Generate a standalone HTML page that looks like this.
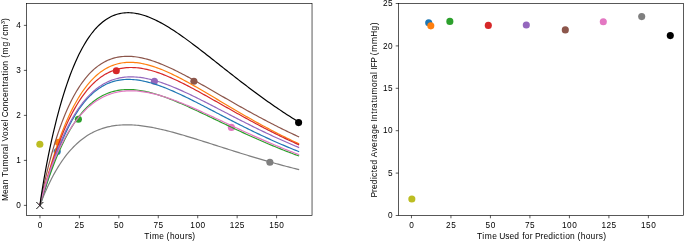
<!DOCTYPE html>
<html><head><meta charset="utf-8"><title>plot</title><style>
html,body{margin:0;padding:0;background:#fff;}
body{width:685px;height:241px;overflow:hidden;}
svg{display:block;will-change:transform;}
text{font-family:"Liberation Sans",sans-serif;fill:#000;}
</style></head><body>
<svg width="685" height="241" viewBox="0 0 685 241">
<rect x="0" y="0" width="685" height="241" fill="#fff"/>
<g>
<circle cx="57.20" cy="151.50" r="3.55" fill="#1f77b4"/>
<circle cx="58.30" cy="142.30" r="3.55" fill="#ff7f0e"/>
<circle cx="78.40" cy="119.20" r="3.55" fill="#2ca02c"/>
<circle cx="116.30" cy="70.80" r="3.55" fill="#d62728"/>
<circle cx="154.40" cy="81.30" r="3.55" fill="#9467bd"/>
<circle cx="193.90" cy="81.30" r="3.55" fill="#8c564b"/>
<circle cx="231.40" cy="127.40" r="3.55" fill="#e377c2"/>
<circle cx="269.90" cy="162.30" r="3.55" fill="#7f7f7f"/>
<circle cx="39.85" cy="144.30" r="3.55" fill="#bcbd22"/>
<circle cx="298.60" cy="122.60" r="3.55" fill="#000000"/>
</g>
<path d="M36.35,202.00 L43.35,209.00 M36.35,209.00 L43.35,202.00" stroke="#000" stroke-width="0.95" fill="none"/>
<g fill="none" stroke-linejoin="round" stroke-linecap="square">
<path d="M39.96,205.39 40.12,205.00 40.28,204.56 40.43,204.10 40.59,203.63 40.75,203.14 40.91,202.65 41.06,202.15 41.22,201.65 41.38,201.15 41.54,200.64 41.70,200.12 41.85,199.61 42.01,199.09 42.17,198.58 42.33,198.06 42.48,197.54 42.64,197.02 42.80,196.49 42.96,195.97 43.12,195.45 43.27,194.93 43.43,194.40 43.59,193.88 43.75,193.36 43.90,192.84 44.06,192.32 44.22,191.79 44.38,191.27 44.53,190.75 44.69,190.23 46.40,184.67 48.10,179.22 49.80,173.92 51.51,168.78 53.21,163.82 54.92,159.03 56.62,154.41 58.33,149.98 60.03,145.71 61.73,141.63 63.44,137.71 65.14,133.96 66.85,130.37 68.55,126.94 70.25,123.67 71.96,120.55 73.66,117.59 75.37,114.76 77.07,112.08 78.77,109.53 80.48,107.12 82.18,104.83 83.89,102.67 85.59,100.63 87.29,98.71 89.00,96.90 90.70,95.20 92.41,93.61 94.11,92.12 95.81,90.73 97.52,89.44 99.22,88.24 100.93,87.14 102.63,86.11 104.34,85.18 106.04,84.32 107.74,83.54 109.45,82.84 111.15,82.22 112.86,81.66 114.56,81.17 116.26,80.74 117.97,80.38 119.67,80.08 121.38,79.84 123.08,79.65 124.78,79.52 126.49,79.44 128.19,79.41 129.90,79.43 131.60,79.50 133.30,79.61 135.01,79.76 136.71,79.95 138.42,80.19 140.12,80.46 141.82,80.76 143.53,81.10 145.23,81.48 146.94,81.88 148.64,82.32 150.35,82.79 152.05,83.28 153.75,83.80 155.46,84.34 157.16,84.91 158.87,85.50 160.57,86.11 162.27,86.74 163.98,87.39 165.68,88.07 167.39,88.75 169.09,89.46 170.79,90.18 172.50,90.91 174.20,91.66 175.91,92.43 177.61,93.20 179.31,93.99 181.02,94.78 182.72,95.59 184.43,96.41 186.13,97.23 187.83,98.06 189.54,98.90 191.24,99.75 192.95,100.61 194.65,101.46 196.36,102.33 198.06,103.20 199.76,104.07 201.47,104.95 203.17,105.83 204.88,106.71 206.58,107.59 208.28,108.48 209.99,109.37 211.69,110.26 213.40,111.15 215.10,112.04 216.80,112.93 218.51,113.82 220.21,114.71 221.92,115.60 223.62,116.48 225.32,117.37 227.03,118.25 228.73,119.13 230.44,120.01 232.14,120.89 233.85,121.76 235.55,122.63 237.25,123.50 238.96,124.36 240.66,125.22 242.37,126.08 244.07,126.93 245.77,127.78 247.48,128.63 249.18,129.47 250.89,130.30 252.59,131.13 254.29,131.96 256.00,132.78 257.70,133.60 259.41,134.41 261.11,135.21 262.81,136.01 264.52,136.81 266.22,137.60 267.93,138.38 269.63,139.16 271.33,139.93 273.04,140.70 274.74,141.46 276.45,142.21 278.15,142.96 279.86,143.71 281.56,144.44 283.26,145.17 284.97,145.90 286.67,146.62 288.38,147.33 290.08,148.03 291.78,148.73 293.49,149.43 295.19,150.12 296.90,150.80 298.60,151.47" stroke="#1f77b4" stroke-width="1.19"/>
<path d="M39.96,205.39 40.12,204.82 40.28,204.23 40.43,203.62 40.59,203.01 40.75,202.40 40.91,201.79 41.06,201.18 41.22,200.56 41.38,199.94 41.54,199.33 41.70,198.71 41.85,198.10 42.01,197.48 42.17,196.87 42.33,196.26 42.48,195.64 42.64,195.03 42.80,194.42 42.96,193.81 43.12,193.20 43.27,192.60 43.43,191.99 43.59,191.39 43.75,190.78 43.90,190.18 44.06,189.58 44.22,188.98 44.38,188.38 44.53,187.79 44.69,187.19 46.40,180.87 48.10,174.74 49.80,168.82 51.51,163.10 53.21,157.58 54.92,152.27 56.62,147.16 58.33,142.25 60.03,137.54 61.73,133.01 63.44,128.67 65.14,124.52 66.85,120.54 68.55,116.74 70.25,113.10 71.96,109.63 73.66,106.32 75.37,103.17 77.07,100.17 78.77,97.31 80.48,94.60 82.18,92.03 83.89,89.59 85.59,87.29 87.29,85.11 89.00,83.06 90.70,81.12 92.41,79.31 94.11,77.60 95.81,76.00 97.52,74.51 99.22,73.13 100.93,71.84 102.63,70.64 104.34,69.54 106.04,68.53 107.74,67.61 109.45,66.77 111.15,66.01 112.86,65.34 114.56,64.73 116.26,64.20 117.97,63.74 119.67,63.35 121.38,63.03 123.08,62.77 124.78,62.57 126.49,62.43 128.19,62.34 129.90,62.31 131.60,62.34 133.30,62.41 135.01,62.54 136.71,62.71 138.42,62.92 140.12,63.18 141.82,63.48 143.53,63.83 145.23,64.21 146.94,64.62 148.64,65.07 150.35,65.56 152.05,66.08 153.75,66.63 155.46,67.21 157.16,67.82 158.87,68.45 160.57,69.11 162.27,69.80 163.98,70.51 165.68,71.24 167.39,71.99 169.09,72.76 170.79,73.55 172.50,74.36 174.20,75.19 175.91,76.03 177.61,76.89 179.31,77.76 181.02,78.65 182.72,79.55 184.43,80.46 186.13,81.38 187.83,82.31 189.54,83.25 191.24,84.20 192.95,85.16 194.65,86.13 196.36,87.10 198.06,88.08 199.76,89.07 201.47,90.06 203.17,91.05 204.88,92.05 206.58,93.05 208.28,94.06 209.99,95.07 211.69,96.08 213.40,97.09 215.10,98.10 216.80,99.12 218.51,100.13 220.21,101.15 221.92,102.16 223.62,103.18 225.32,104.19 227.03,105.20 228.73,106.21 230.44,107.22 232.14,108.22 233.85,109.23 235.55,110.23 237.25,111.22 238.96,112.22 240.66,113.21 242.37,114.19 244.07,115.17 245.77,116.15 247.48,117.13 249.18,118.09 250.89,119.06 252.59,120.02 254.29,120.97 256.00,121.92 257.70,122.86 259.41,123.80 261.11,124.73 262.81,125.66 264.52,126.58 266.22,127.49 267.93,128.40 269.63,129.30 271.33,130.20 273.04,131.09 274.74,131.97 276.45,132.85 278.15,133.72 279.86,134.58 281.56,135.44 283.26,136.29 284.97,137.13 286.67,137.96 288.38,138.79 290.08,139.61 291.78,140.43 293.49,141.23 295.19,142.03 296.90,142.83 298.60,143.61" stroke="#ff7f0e" stroke-width="1.19"/>
<path d="M39.96,205.39 40.12,204.94 40.28,204.46 40.43,203.97 40.59,203.48 40.75,202.98 40.91,202.48 41.06,201.98 41.22,201.47 41.38,200.97 41.54,200.46 41.70,199.95 41.85,199.45 42.01,198.94 42.17,198.43 42.33,197.93 42.48,197.42 42.64,196.92 42.80,196.41 42.96,195.91 43.12,195.40 43.27,194.90 43.43,194.40 43.59,193.90 43.75,193.40 43.90,192.90 44.06,192.41 44.22,191.91 44.38,191.42 44.53,190.92 44.69,190.43 46.40,185.19 48.10,180.11 49.80,175.21 51.51,170.48 53.21,165.92 54.92,161.54 56.62,157.33 58.33,153.29 60.03,149.42 61.73,145.70 63.44,142.15 65.14,138.76 66.85,135.51 68.55,132.41 70.25,129.46 71.96,126.64 73.66,123.96 75.37,121.42 77.07,118.99 78.77,116.70 80.48,114.52 82.18,112.46 83.89,110.51 85.59,108.67 87.29,106.94 89.00,105.31 90.70,103.77 92.41,102.34 94.11,101.00 95.81,99.74 97.52,98.58 99.22,97.50 100.93,96.50 102.63,95.57 104.34,94.73 106.04,93.95 107.74,93.25 109.45,92.62 111.15,92.05 112.86,91.55 114.56,91.10 116.26,90.72 117.97,90.39 119.67,90.12 121.38,89.90 123.08,89.74 124.78,89.62 126.49,89.55 128.19,89.52 129.90,89.54 131.60,89.60 133.30,89.70 135.01,89.84 136.71,90.01 138.42,90.22 140.12,90.47 141.82,90.75 143.53,91.06 145.23,91.40 146.94,91.77 148.64,92.17 150.35,92.59 152.05,93.04 153.75,93.51 155.46,94.01 157.16,94.53 158.87,95.07 160.57,95.63 162.27,96.21 163.98,96.80 165.68,97.41 167.39,98.04 169.09,98.69 170.79,99.35 172.50,100.02 174.20,100.71 175.91,101.40 177.61,102.11 179.31,102.83 181.02,103.56 182.72,104.30 184.43,105.05 186.13,105.81 187.83,106.57 189.54,107.34 191.24,108.12 192.95,108.90 194.65,109.69 196.36,110.49 198.06,111.28 199.76,112.09 201.47,112.89 203.17,113.70 204.88,114.51 206.58,115.32 208.28,116.14 209.99,116.96 211.69,117.77 213.40,118.59 215.10,119.41 216.80,120.23 218.51,121.05 220.21,121.87 221.92,122.69 223.62,123.51 225.32,124.32 227.03,125.14 228.73,125.95 230.44,126.76 232.14,127.57 233.85,128.37 235.55,129.18 237.25,129.98 238.96,130.77 240.66,131.57 242.37,132.36 244.07,133.14 245.77,133.93 247.48,134.71 249.18,135.48 250.89,136.26 252.59,137.02 254.29,137.79 256.00,138.54 257.70,139.30 259.41,140.05 261.11,140.79 262.81,141.53 264.52,142.27 266.22,143.00 267.93,143.72 269.63,144.44 271.33,145.16 273.04,145.86 274.74,146.57 276.45,147.27 278.15,147.96 279.86,148.65 281.56,149.33 283.26,150.00 284.97,150.68 286.67,151.34 288.38,152.00 290.08,152.65 291.78,153.30 293.49,153.94 295.19,154.58 296.90,155.21 298.60,155.84" stroke="#2ca02c" stroke-width="1.19"/>
<path d="M39.96,205.39 40.12,204.81 40.28,204.22 40.43,203.63 40.59,203.03 40.75,202.43 40.91,201.83 41.06,201.23 41.22,200.63 41.38,200.03 41.54,199.43 41.70,198.83 41.85,198.24 42.01,197.64 42.17,197.04 42.33,196.45 42.48,195.86 42.64,195.27 42.80,194.68 42.96,194.09 43.12,193.50 43.27,192.92 43.43,192.33 43.59,191.75 43.75,191.17 43.90,190.59 44.06,190.01 44.22,189.44 44.38,188.86 44.53,188.29 44.69,187.72 46.40,181.65 48.10,175.78 49.80,170.11 51.51,164.64 53.21,159.37 54.92,154.30 56.62,149.42 58.33,144.73 60.03,140.23 61.73,135.91 63.44,131.76 65.14,127.79 66.85,123.99 68.55,120.35 70.25,116.87 71.96,113.55 73.66,110.37 75.37,107.35 77.07,104.47 78.77,101.73 80.48,99.12 82.18,96.65 83.89,94.31 85.59,92.08 87.29,89.98 89.00,88.00 90.70,86.13 92.41,84.37 94.11,82.71 95.81,81.16 97.52,79.71 99.22,78.36 100.93,77.10 102.63,75.94 104.34,74.86 106.04,73.86 107.74,72.95 109.45,72.12 111.15,71.37 112.86,70.69 114.56,70.08 116.26,69.55 117.97,69.08 119.67,68.67 121.38,68.33 123.08,68.05 124.78,67.83 126.49,67.67 128.19,67.56 129.90,67.50 131.60,67.50 133.30,67.54 135.01,67.63 136.71,67.76 138.42,67.94 140.12,68.16 141.82,68.42 143.53,68.72 145.23,69.06 146.94,69.43 148.64,69.84 150.35,70.28 152.05,70.75 153.75,71.26 155.46,71.79 157.16,72.34 158.87,72.93 160.57,73.54 162.27,74.17 163.98,74.83 165.68,75.51 167.39,76.21 169.09,76.93 170.79,77.67 172.50,78.42 174.20,79.20 175.91,79.99 177.61,80.79 179.31,81.61 181.02,82.44 182.72,83.29 184.43,84.14 186.13,85.01 187.83,85.89 189.54,86.78 191.24,87.68 192.95,88.58 194.65,89.50 196.36,90.42 198.06,91.34 199.76,92.28 201.47,93.22 203.17,94.16 204.88,95.11 206.58,96.06 208.28,97.02 209.99,97.98 211.69,98.94 213.40,99.90 215.10,100.87 216.80,101.83 218.51,102.80 220.21,103.77 221.92,104.74 223.62,105.71 225.32,106.67 227.03,107.64 228.73,108.60 230.44,109.57 232.14,110.53 233.85,111.49 235.55,112.45 237.25,113.40 238.96,114.35 240.66,115.30 242.37,116.25 244.07,117.19 245.77,118.13 247.48,119.06 249.18,120.00 250.89,120.92 252.59,121.84 254.29,122.76 256.00,123.67 257.70,124.58 259.41,125.48 261.11,126.38 262.81,127.27 264.52,128.16 266.22,129.04 267.93,129.92 269.63,130.79 271.33,131.65 273.04,132.51 274.74,133.36 276.45,134.21 278.15,135.05 279.86,135.88 281.56,136.71 283.26,137.53 284.97,138.34 286.67,139.15 288.38,139.95 290.08,140.75 291.78,141.54 293.49,142.32 295.19,143.09 296.90,143.86 298.60,144.62" stroke="#d62728" stroke-width="1.19"/>
<path d="M39.96,205.39 40.12,204.78 40.28,204.18 40.43,203.58 40.59,202.98 40.75,202.39 40.91,201.79 41.06,201.20 41.22,200.61 41.38,200.02 41.54,199.44 41.70,198.85 41.85,198.27 42.01,197.69 42.17,197.11 42.33,196.54 42.48,195.96 42.64,195.39 42.80,194.82 42.96,194.25 43.12,193.69 43.27,193.12 43.43,192.56 43.59,192.00 43.75,191.45 43.90,190.89 44.06,190.34 44.22,189.78 44.38,189.24 44.53,188.69 44.69,188.14 46.40,182.37 48.10,176.81 49.80,171.48 51.51,166.34 53.21,161.41 54.92,156.68 56.62,152.14 58.33,147.78 60.03,143.61 61.73,139.60 63.44,135.77 65.14,132.11 66.85,128.60 68.55,125.25 70.25,122.04 71.96,118.99 73.66,116.07 75.37,113.30 77.07,110.66 78.77,108.14 80.48,105.76 82.18,103.49 83.89,101.35 85.59,99.31 87.29,97.39 89.00,95.58 90.70,93.87 92.41,92.26 94.11,90.75 95.81,89.34 97.52,88.01 99.22,86.78 100.93,85.63 102.63,84.56 104.34,83.58 106.04,82.67 107.74,81.84 109.45,81.08 111.15,80.40 112.86,79.78 114.56,79.22 116.26,78.73 117.97,78.31 119.67,77.94 121.38,77.62 123.08,77.37 124.78,77.17 126.49,77.01 128.19,76.91 129.90,76.86 131.60,76.85 133.30,76.89 135.01,76.97 136.71,77.09 138.42,77.25 140.12,77.44 141.82,77.68 143.53,77.95 145.23,78.25 146.94,78.59 148.64,78.96 150.35,79.35 152.05,79.78 153.75,80.23 155.46,80.71 157.16,81.22 158.87,81.75 160.57,82.30 162.27,82.87 163.98,83.47 165.68,84.08 167.39,84.72 169.09,85.37 170.79,86.04 172.50,86.73 174.20,87.43 175.91,88.14 177.61,88.87 179.31,89.62 181.02,90.37 182.72,91.14 184.43,91.92 186.13,92.71 187.83,93.51 189.54,94.32 191.24,95.13 192.95,95.96 194.65,96.79 196.36,97.63 198.06,98.47 199.76,99.32 201.47,100.18 203.17,101.04 204.88,101.90 206.58,102.77 208.28,103.64 209.99,104.51 211.69,105.39 213.40,106.27 215.10,107.15 216.80,108.03 218.51,108.91 220.21,109.80 221.92,110.68 223.62,111.57 225.32,112.45 227.03,113.33 228.73,114.22 230.44,115.10 232.14,115.98 233.85,116.86 235.55,117.73 237.25,118.61 238.96,119.48 240.66,120.35 242.37,121.22 244.07,122.08 245.77,122.94 247.48,123.80 249.18,124.65 250.89,125.50 252.59,126.35 254.29,127.19 256.00,128.03 257.70,128.87 259.41,129.70 261.11,130.52 262.81,131.34 264.52,132.16 266.22,132.97 267.93,133.78 269.63,134.58 271.33,135.37 273.04,136.17 274.74,136.95 276.45,137.73 278.15,138.51 279.86,139.28 281.56,140.04 283.26,140.80 284.97,141.55 286.67,142.30 288.38,143.04 290.08,143.77 291.78,144.50 293.49,145.23 295.19,145.95 296.90,146.66 298.60,147.36" stroke="#9467bd" stroke-width="1.19"/>
<path d="M39.96,205.39 40.12,204.41 40.28,203.50 40.43,202.61 40.59,201.74 40.75,200.89 40.91,200.05 41.06,199.21 41.22,198.39 41.38,197.57 41.54,196.76 41.70,195.96 41.85,195.17 42.01,194.38 42.17,193.60 42.33,192.82 42.48,192.05 42.64,191.29 42.80,190.53 42.96,189.77 43.12,189.02 43.27,188.28 43.43,187.54 43.59,186.80 43.75,186.07 43.90,185.34 44.06,184.62 44.22,183.90 44.38,183.19 44.53,182.48 44.69,181.77 46.40,174.38 48.10,167.40 49.80,160.79 51.51,154.51 53.21,148.55 54.92,142.88 56.62,137.49 58.33,132.36 60.03,127.48 61.73,122.85 63.44,118.44 65.14,114.25 66.85,110.26 68.55,106.48 70.25,102.89 71.96,99.49 73.66,96.26 75.37,93.21 77.07,90.32 78.77,87.58 80.48,85.00 82.18,82.56 83.89,80.27 85.59,78.11 87.29,76.08 89.00,74.18 90.70,72.39 92.41,70.73 94.11,69.17 95.81,67.73 97.52,66.39 99.22,65.14 100.93,64.00 102.63,62.95 104.34,61.99 106.04,61.11 107.74,60.32 109.45,59.61 111.15,58.98 112.86,58.42 114.56,57.93 116.26,57.51 117.97,57.16 119.67,56.87 121.38,56.64 123.08,56.48 124.78,56.36 126.49,56.31 128.19,56.30 129.90,56.35 131.60,56.45 133.30,56.59 135.01,56.77 136.71,57.00 138.42,57.27 140.12,57.58 141.82,57.93 143.53,58.31 145.23,58.73 146.94,59.18 148.64,59.67 150.35,60.18 152.05,60.72 153.75,61.29 155.46,61.89 157.16,62.51 158.87,63.16 160.57,63.83 162.27,64.52 163.98,65.23 165.68,65.97 167.39,66.72 169.09,67.49 170.79,68.27 172.50,69.07 174.20,69.89 175.91,70.72 177.61,71.57 179.31,72.43 181.02,73.30 182.72,74.18 184.43,75.07 186.13,75.97 187.83,76.88 189.54,77.80 191.24,78.72 192.95,79.66 194.65,80.60 196.36,81.54 198.06,82.50 199.76,83.45 201.47,84.41 203.17,85.38 204.88,86.35 206.58,87.32 208.28,88.30 209.99,89.27 211.69,90.25 213.40,91.23 215.10,92.22 216.80,93.20 218.51,94.18 220.21,95.16 221.92,96.15 223.62,97.13 225.32,98.11 227.03,99.09 228.73,100.07 230.44,101.05 232.14,102.02 233.85,102.99 235.55,103.96 237.25,104.93 238.96,105.90 240.66,106.86 242.37,107.82 244.07,108.77 245.77,109.72 247.48,110.67 249.18,111.61 250.89,112.55 252.59,113.49 254.29,114.42 256.00,115.34 257.70,116.26 259.41,117.18 261.11,118.09 262.81,119.00 264.52,119.90 266.22,120.79 267.93,121.68 269.63,122.57 271.33,123.45 273.04,124.32 274.74,125.19 276.45,126.05 278.15,126.91 279.86,127.76 281.56,128.60 283.26,129.44 284.97,130.27 286.67,131.10 288.38,131.92 290.08,132.73 291.78,133.54 293.49,134.34 295.19,135.13 296.90,135.92 298.60,136.70" stroke="#8c564b" stroke-width="1.19"/>
<path d="M39.96,205.39 40.12,204.42 40.28,203.61 40.43,202.86 40.59,202.14 40.75,201.44 40.91,200.76 41.06,200.10 41.22,199.44 41.38,198.81 41.54,198.18 41.70,197.56 41.85,196.95 42.01,196.34 42.17,195.75 42.33,195.16 42.48,194.57 42.64,194.00 42.80,193.42 42.96,192.86 43.12,192.30 43.27,191.74 43.43,191.19 43.59,190.64 43.75,190.10 43.90,189.56 44.06,189.02 44.22,188.49 44.38,187.96 44.53,187.44 44.69,186.92 46.40,181.51 48.10,176.43 49.80,171.62 51.51,167.06 53.21,162.72 54.92,158.59 56.62,154.65 58.33,150.90 60.03,147.31 61.73,143.88 63.44,140.61 65.14,137.49 66.85,134.51 68.55,131.67 70.25,128.96 71.96,126.38 73.66,123.91 75.37,121.57 77.07,119.34 78.77,117.22 80.48,115.21 82.18,113.29 83.89,111.48 85.59,109.77 87.29,108.15 89.00,106.62 90.70,105.18 92.41,103.82 94.11,102.54 95.81,101.35 97.52,100.23 99.22,99.19 100.93,98.21 102.63,97.31 104.34,96.48 106.04,95.71 107.74,95.01 109.45,94.37 111.15,93.79 112.86,93.26 114.56,92.79 116.26,92.38 117.97,92.02 119.67,91.70 121.38,91.44 123.08,91.23 124.78,91.06 126.49,90.93 128.19,90.85 129.90,90.81 131.60,90.81 133.30,90.85 135.01,90.92 136.71,91.03 138.42,91.17 140.12,91.35 141.82,91.56 143.53,91.80 145.23,92.07 146.94,92.37 148.64,92.70 150.35,93.05 152.05,93.43 153.75,93.83 155.46,94.26 157.16,94.70 158.87,95.17 160.57,95.66 162.27,96.17 163.98,96.70 165.68,97.25 167.39,97.81 169.09,98.39 170.79,98.99 172.50,99.60 174.20,100.23 175.91,100.87 177.61,101.52 179.31,102.18 181.02,102.86 182.72,103.54 184.43,104.24 186.13,104.94 187.83,105.66 189.54,106.38 191.24,107.11 192.95,107.85 194.65,108.60 196.36,109.35 198.06,110.11 199.76,110.87 201.47,111.64 203.17,112.42 204.88,113.19 206.58,113.98 208.28,114.76 209.99,115.55 211.69,116.34 213.40,117.13 215.10,117.93 216.80,118.72 218.51,119.52 220.21,120.32 221.92,121.12 223.62,121.92 225.32,122.72 227.03,123.52 228.73,124.32 230.44,125.12 232.14,125.92 233.85,126.71 235.55,127.51 237.25,128.30 238.96,129.09 240.66,129.88 242.37,130.67 244.07,131.46 245.77,132.24 247.48,133.02 249.18,133.79 250.89,134.57 252.59,135.34 254.29,136.10 256.00,136.87 257.70,137.63 259.41,138.38 261.11,139.14 262.81,139.88 264.52,140.63 266.22,141.37 267.93,142.10 269.63,142.83 271.33,143.56 273.04,144.28 274.74,145.00 276.45,145.71 278.15,146.41 279.86,147.12 281.56,147.81 283.26,148.51 284.97,149.19 286.67,149.87 288.38,150.55 290.08,151.22 291.78,151.89 293.49,152.55 295.19,153.20 296.90,153.85 298.60,154.50" stroke="#e377c2" stroke-width="1.19"/>
<path d="M39.96,205.39 40.12,204.95 40.28,204.52 40.43,204.09 40.59,203.66 40.75,203.24 40.91,202.82 41.06,202.40 41.22,201.99 41.38,201.58 41.54,201.17 41.70,200.76 41.85,200.35 42.01,199.95 42.17,199.55 42.33,199.14 42.48,198.75 42.64,198.35 42.80,197.96 42.96,197.56 43.12,197.17 43.27,196.78 43.43,196.40 43.59,196.01 43.75,195.63 43.90,195.25 44.06,194.87 44.22,194.49 44.38,194.11 44.53,193.74 44.69,193.36 46.40,189.44 48.10,185.70 49.80,182.14 51.51,178.74 53.21,175.50 54.92,172.41 56.62,169.46 58.33,166.65 60.03,163.97 61.73,161.43 63.44,159.00 65.14,156.69 66.85,154.49 68.55,152.41 70.25,150.42 71.96,148.54 73.66,146.76 75.37,145.07 77.07,143.47 78.77,141.96 80.48,140.53 82.18,139.18 83.89,137.92 85.59,136.72 87.29,135.60 89.00,134.55 90.70,133.57 92.41,132.65 94.11,131.79 95.81,130.99 97.52,130.26 99.22,129.58 100.93,128.95 102.63,128.37 104.34,127.85 106.04,127.37 107.74,126.94 109.45,126.55 111.15,126.21 112.86,125.91 114.56,125.65 116.26,125.43 117.97,125.24 119.67,125.09 121.38,124.98 123.08,124.90 124.78,124.84 126.49,124.82 128.19,124.83 129.90,124.87 131.60,124.93 133.30,125.02 135.01,125.14 136.71,125.28 138.42,125.44 140.12,125.62 141.82,125.82 143.53,126.05 145.23,126.29 146.94,126.55 148.64,126.83 150.35,127.13 152.05,127.44 153.75,127.77 155.46,128.11 157.16,128.46 158.87,128.83 160.57,129.21 162.27,129.61 163.98,130.01 165.68,130.43 167.39,130.85 169.09,131.29 170.79,131.73 172.50,132.18 174.20,132.64 175.91,133.11 177.61,133.59 179.31,134.07 181.02,134.56 182.72,135.05 184.43,135.55 186.13,136.06 187.83,136.57 189.54,137.08 191.24,137.60 192.95,138.12 194.65,138.65 196.36,139.18 198.06,139.71 199.76,140.24 201.47,140.78 203.17,141.32 204.88,141.86 206.58,142.40 208.28,142.94 209.99,143.48 211.69,144.03 213.40,144.57 215.10,145.12 216.80,145.66 218.51,146.21 220.21,146.75 221.92,147.30 223.62,147.84 225.32,148.38 227.03,148.92 228.73,149.46 230.44,150.00 232.14,150.54 233.85,151.08 235.55,151.61 237.25,152.15 238.96,152.68 240.66,153.21 242.37,153.73 244.07,154.26 245.77,154.78 247.48,155.30 249.18,155.82 250.89,156.33 252.59,156.85 254.29,157.36 256.00,157.86 257.70,158.37 259.41,158.87 261.11,159.37 262.81,159.86 264.52,160.36 266.22,160.85 267.93,161.33 269.63,161.81 271.33,162.29 273.04,162.77 274.74,163.24 276.45,163.71 278.15,164.18 279.86,164.64 281.56,165.10 283.26,165.56 284.97,166.01 286.67,166.46 288.38,166.90 290.08,167.34 291.78,167.78 293.49,168.21 295.19,168.65 296.90,169.07 298.60,169.50" stroke="#7f7f7f" stroke-width="1.19"/>
<path d="M39.96,205.39 40.12,204.00 40.28,202.77 40.43,201.59 40.59,200.45 40.75,199.33 40.91,198.24 41.06,197.16 41.22,196.10 41.38,195.05 41.54,194.01 41.70,192.99 41.85,191.97 42.01,190.97 42.17,189.97 42.33,188.99 42.48,188.01 42.64,187.04 42.80,186.07 42.96,185.12 43.12,184.17 43.27,183.23 43.43,182.29 43.59,181.36 43.75,180.44 43.90,179.52 44.06,178.61 44.22,177.71 44.38,176.81 44.53,175.91 44.69,175.02 46.40,165.73 48.10,156.96 49.80,148.63 51.51,140.72 53.21,133.19 54.92,126.02 56.62,119.18 58.33,112.66 60.03,106.44 61.73,100.51 63.44,94.86 65.14,89.48 66.85,84.35 68.55,79.47 70.25,74.82 71.96,70.40 73.66,66.20 75.37,62.21 77.07,58.43 78.77,54.84 80.48,51.45 82.18,48.24 83.89,45.21 85.59,42.35 87.29,39.65 89.00,37.12 90.70,34.74 92.41,32.51 94.11,30.43 95.81,28.48 97.52,26.67 99.22,25.00 100.93,23.45 102.63,22.02 104.34,20.71 106.04,19.51 107.74,18.42 109.45,17.44 111.15,16.57 112.86,15.79 114.56,15.11 116.26,14.52 117.97,14.02 119.67,13.60 121.38,13.27 123.08,13.02 124.78,12.84 126.49,12.74 128.19,12.71 129.90,12.75 131.60,12.86 133.30,13.02 135.01,13.26 136.71,13.54 138.42,13.89 140.12,14.29 141.82,14.74 143.53,15.25 145.23,15.80 146.94,16.40 148.64,17.04 150.35,17.72 152.05,18.45 153.75,19.21 155.46,20.01 157.16,20.85 158.87,21.72 160.57,22.62 162.27,23.56 163.98,24.52 165.68,25.51 167.39,26.53 169.09,27.57 170.79,28.64 172.50,29.73 174.20,30.84 175.91,31.97 177.61,33.12 179.31,34.29 181.02,35.47 182.72,36.67 184.43,37.89 186.13,39.12 187.83,40.36 189.54,41.62 191.24,42.89 192.95,44.16 194.65,45.45 196.36,46.75 198.06,48.05 199.76,49.36 201.47,50.68 203.17,52.00 204.88,53.33 206.58,54.66 208.28,56.00 209.99,57.34 211.69,58.68 213.40,60.02 215.10,61.37 216.80,62.72 218.51,64.06 220.21,65.41 221.92,66.76 223.62,68.10 225.32,69.45 227.03,70.79 228.73,72.13 230.44,73.47 232.14,74.81 233.85,76.14 235.55,77.47 237.25,78.79 238.96,80.11 240.66,81.43 242.37,82.74 244.07,84.04 245.77,85.34 247.48,86.64 249.18,87.92 250.89,89.21 252.59,90.48 254.29,91.75 256.00,93.01 257.70,94.27 259.41,95.52 261.11,96.76 262.81,97.99 264.52,99.22 266.22,100.43 267.93,101.64 269.63,102.84 271.33,104.04 273.04,105.22 274.74,106.40 276.45,107.57 278.15,108.73 279.86,109.88 281.56,111.02 283.26,112.15 284.97,113.28 286.67,114.39 288.38,115.50 290.08,116.60 291.78,117.68 293.49,118.76 295.19,119.83 296.90,120.89 298.60,121.94" stroke="#000" stroke-width="1.19"/>
</g>
<rect x="26.64" y="3.5" width="285.39" height="212.00" fill="none" stroke="#000" stroke-width="0.65"/>
<rect x="398.5" y="3.5" width="284.96" height="212.00" fill="none" stroke="#000" stroke-width="0.65"/>
<path d="M39.96,215.5v2.78 M411.46,215.5v2.78 M79.40,215.5v2.78 M450.95,215.5v2.78 M118.84,215.5v2.78 M490.43,215.5v2.78 M158.27,215.5v2.78 M529.92,215.5v2.78 M197.71,215.5v2.78 M569.41,215.5v2.78 M237.15,215.5v2.78 M608.90,215.5v2.78 M276.58,215.5v2.78 M648.38,215.5v2.78 M26.64,205.39h-2.78 M26.64,160.39h-2.78 M26.64,115.39h-2.78 M26.64,70.39h-2.78 M26.64,25.39h-2.78 M398.5,215.50h-2.78 M398.5,173.10h-2.78 M398.5,130.70h-2.78 M398.5,88.30h-2.78 M398.5,45.90h-2.78 M398.5,3.50h-2.78" stroke="#000" stroke-width="0.65" fill="none"/>
<g>
<text transform="translate(0,227.60) scale(0.9835,1)" x="38.29" y="0" font-size="8.4">0</text>
<text transform="translate(0,227.60) scale(0.9835,1)" x="416.03" y="0" font-size="8.4">0</text>
<text transform="translate(0,227.60) scale(0.9835,1)" x="75.72 80.93" y="0" font-size="8.4">25</text>
<text transform="translate(0,227.60) scale(0.9835,1)" x="453.51 458.72" y="0" font-size="8.4">25</text>
<text transform="translate(0,227.60) scale(0.9835,1)" x="115.90 121.06" y="0" font-size="8.4">50</text>
<text transform="translate(0,227.60) scale(0.9835,1)" x="493.74 498.90" y="0" font-size="8.4">50</text>
<text transform="translate(0,227.60) scale(0.9835,1)" x="156.01 161.13" y="0" font-size="8.4">75</text>
<text transform="translate(0,227.60) scale(0.9835,1)" x="533.90 539.02" y="0" font-size="8.4">75</text>
<text transform="translate(0,227.60) scale(0.9835,1)" x="193.52 198.69 203.82" y="0" font-size="8.4">100</text>
<text transform="translate(0,227.60) scale(0.9835,1)" x="571.46 576.64 581.77" y="0" font-size="8.4">100</text>
<text transform="translate(0,227.60) scale(0.9835,1)" x="233.62 238.69 243.89" y="0" font-size="8.4">125</text>
<text transform="translate(0,227.60) scale(0.9835,1)" x="611.61 616.68 621.89" y="0" font-size="8.4">125</text>
<text transform="translate(0,227.60) scale(0.9835,1)" x="273.72 278.86 284.02" y="0" font-size="8.4">150</text>
<text transform="translate(0,227.60) scale(0.9835,1)" x="651.77 656.91 662.07" y="0" font-size="8.4">150</text>
<text transform="translate(0,208.04) scale(0.9835,1)" x="16.53" y="0" font-size="8.4">0</text>
<text transform="translate(0,163.04) scale(0.9835,1)" x="16.49" y="0" font-size="8.4">1</text>
<text transform="translate(0,118.04) scale(0.9835,1)" x="16.42" y="0" font-size="8.4">2</text>
<text transform="translate(0,73.04) scale(0.9835,1)" x="16.54" y="0" font-size="8.4">3</text>
<text transform="translate(0,28.04) scale(0.9835,1)" x="16.53" y="0" font-size="8.4">4</text>
<text transform="translate(0,218.15) scale(0.9835,1)" x="394.64" y="0" font-size="8.4">0</text>
<text transform="translate(0,175.75) scale(0.9835,1)" x="394.61" y="0" font-size="8.4">5</text>
<text transform="translate(0,133.35) scale(0.9835,1)" x="389.46 394.64" y="0" font-size="8.4">10</text>
<text transform="translate(0,90.95) scale(0.9835,1)" x="389.46 394.61" y="0" font-size="8.4">15</text>
<text transform="translate(0,48.55) scale(0.9835,1)" x="389.40 394.64" y="0" font-size="8.4">20</text>
<text transform="translate(0,6.15) scale(0.9835,1)" x="389.40 394.61" y="0" font-size="8.4">25</text>
<text transform="translate(0,238.50) scale(0.9999,1)" x="144.33 149.49 151.91 159.37 164.04 166.59 169.93 174.86 179.78 185.03 187.93 192.40" y="0" font-size="8.4">Time (hours)</text>
<text transform="translate(0,238.50) scale(1.0082,1)" x="473.24 478.37 480.74 488.15 492.82 495.24 501.15 505.35 510.20 514.87 517.89 520.42 525.52 528.32 530.59 536.00 538.97 543.82 548.86 550.85 555.56 558.46 560.55 565.46 570.14 572.70 576.01 580.90 585.78 590.99 593.87 598.31" y="0" font-size="8.4">Time Used for Prediction (hours)</text>
<text transform="translate(377.10,241) rotate(-90) scale(0.9983,1)" x="43.62 49.07 52.08 56.98 62.06 64.08 68.83 71.70 76.60 81.27 83.94 89.71 94.29 99.43 102.11 107.32 112.35 117.02 119.64 122.18 127.38 130.51 133.19 138.63 141.54 146.80 154.25 159.40 162.07 167.31 169.18 171.88 173.92 178.51 184.11 186.04 189.59 197.33 204.63 210.79 216.06" y="0" font-size="8.4">Predicted Average Intratumoral IFP (mmHg)</text>
<text transform="translate(8.00,241) rotate(-90) scale(1.0049,1)" x="39.83 46.84 51.37 56.61 61.28 63.78 68.90 74.12 81.52 86.64 89.30 94.51 96.38 98.95 104.53 109.50 114.06 118.97 120.83 123.18 129.09 134.02 138.82 143.29 148.22 153.40 156.50 159.16 164.57 167.47 169.58 174.51 179.18 182.46 185.47 193.49 200.24 204.22 208.55" y="0" font-size="8.4">Mean Tumoral Voxel Concentration (mg/cm</text>
<text transform="translate(5.00,241) rotate(-90) scale(0.9557,1)" x="226.69" y="0" font-size="5.88">3</text>
<text transform="translate(8.00,241) rotate(-90) scale(1.0000,1)" x="219.94" y="0" font-size="8.4">)</text>
</g>
<g>
<circle cx="428.7" cy="22.8" r="3.55" fill="#1f77b4"/>
<circle cx="430.8" cy="25.85" r="3.55" fill="#ff7f0e"/>
<circle cx="449.86" cy="21.4" r="3.55" fill="#2ca02c"/>
<circle cx="488.3" cy="25.4" r="3.55" fill="#d62728"/>
<circle cx="526.3" cy="24.95" r="3.55" fill="#9467bd"/>
<circle cx="565.3" cy="29.9" r="3.55" fill="#8c564b"/>
<circle cx="603.3" cy="21.8" r="3.55" fill="#e377c2"/>
<circle cx="641.7" cy="16.6" r="3.55" fill="#7f7f7f"/>
<circle cx="411.85" cy="199.0" r="3.55" fill="#bcbd22"/>
<circle cx="670.3" cy="35.6" r="3.55" fill="#000000"/>
</g>
</svg>
</body></html>
